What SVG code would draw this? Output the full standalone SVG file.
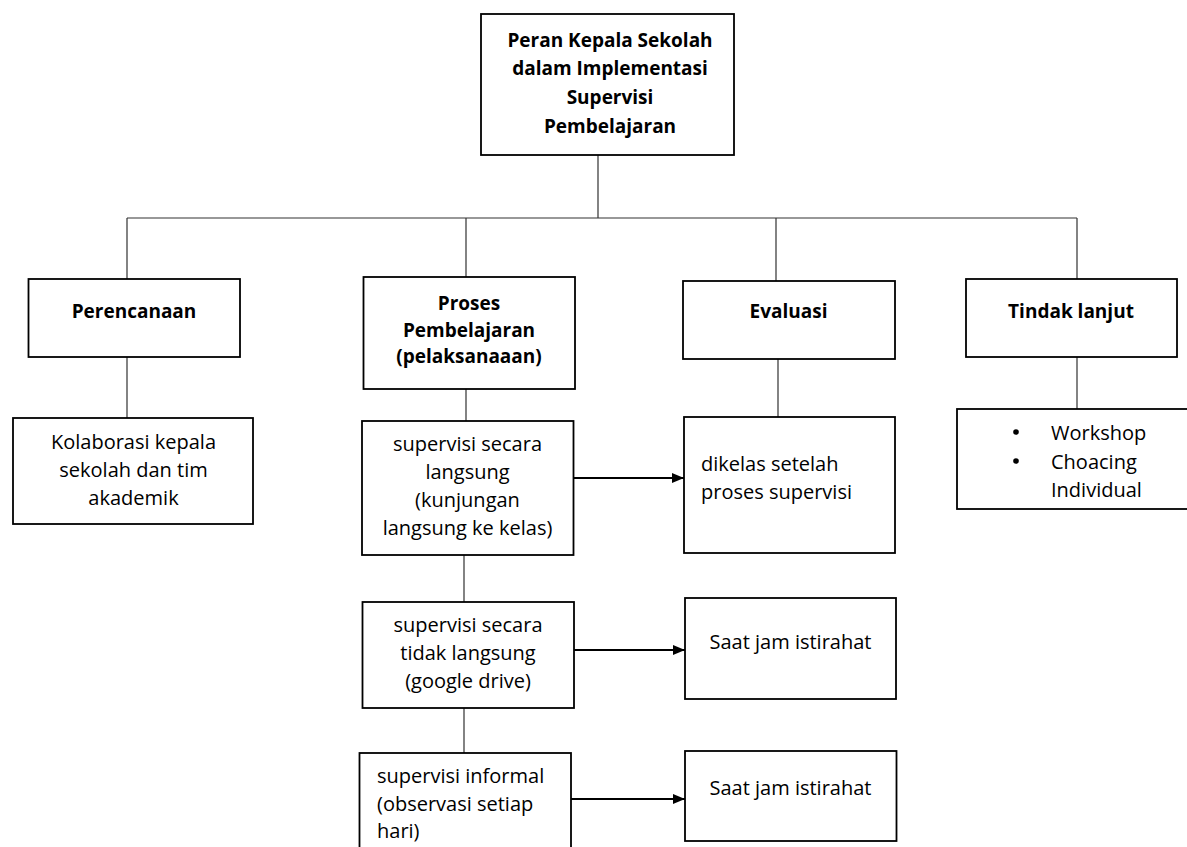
<svg xmlns="http://www.w3.org/2000/svg" width="1187" height="847" viewBox="0 0 1187 847">
<defs>
<style>
.box{fill:#fff;stroke:#000;stroke-width:1.8}
.ln{stroke:#333;stroke-width:1.2;fill:none}
.ar{stroke:#000;stroke-width:2;fill:none}
text{font-family:"Open Sans","Noto Sans",sans-serif;fill:#000}
.r{font-size:20px}
.b{font-size:19px;font-weight:bold}
.c{text-anchor:middle}
</style>
<marker id="ah" markerWidth="12" markerHeight="10" refX="12" refY="5" orient="auto" markerUnits="userSpaceOnUse">
<path d="M0,0 L12,5 L0,10 Z" fill="#000"/>
</marker>
</defs>
<rect width="1187" height="847" fill="#fff"/>
<g id="connectors">
<path class="ln" d="M598,155 V218 M127,218 H1077 M127,218 V279 M466,218 V277 M776,218 V281 M1077,218 V279"/>
<path class="ln" d="M127,357 V418 M466,389 V421 M778,359 V417 M1077,357 V409 M464,555 V602 M464,708 V753"/>
<path class="ar" d="M573.5,478 H684" marker-end="url(#ah)"/>
<path class="ar" d="M574,650 H685" marker-end="url(#ah)"/>
<path class="ar" d="M571,799 H685" marker-end="url(#ah)"/>
</g>
<g id="root">
<rect class="box" x="481" y="14" width="253" height="141"/>
<text class="b c" x="610" y="46.5">Peran Kepala Sekolah</text>
<text class="b c" x="610" y="75">dalam Implementasi</text>
<text class="b c" x="610" y="104">Supervisi</text>
<text class="b c" x="610" y="133">Pembelajaran</text>
</g>
<g id="perencanaan">
<rect class="box" x="28.5" y="279" width="211.5" height="78"/>
<text class="b c" x="134" y="318">Perencanaan</text>
</g>
<g id="proses">
<rect class="box" x="363.5" y="277" width="211.5" height="112"/>
<text class="b c" x="469" y="310">Proses</text>
<text class="b c" x="469" y="337">Pembelajaran</text>
<text class="b c" x="469" y="363">(pelaksanaaan)</text>
</g>
<g id="evaluasi">
<rect class="box" x="683" y="281" width="212" height="78"/>
<text class="b c" x="788.5" y="318">Evaluasi</text>
</g>
<g id="tindak">
<rect class="box" x="966" y="279" width="211" height="78"/>
<text class="b c" x="1071" y="318">Tindak lanjut</text>
</g>
<g id="kolaborasi">
<rect class="box" x="13" y="418" width="240" height="106"/>
<text class="r c" x="133.5" y="449">Kolaborasi kepala</text>
<text class="r c" x="133.5" y="477">sekolah dan tim</text>
<text class="r c" x="133.5" y="505">akademik</text>
</g>
<g id="langsung">
<rect class="box" x="362" y="421" width="211.5" height="134"/>
<text class="r c" x="467.5" y="451">supervisi secara</text>
<text class="r c" x="467.5" y="479">langsung</text>
<text class="r c" x="467.5" y="507">(kunjungan</text>
<text class="r c" x="467.5" y="535">langsung ke kelas)</text>
</g>
<g id="dikelas">
<rect class="box" x="684" y="417" width="211" height="136"/>
<text class="r" x="701" y="471">dikelas setelah</text>
<text class="r" x="701" y="499">proses supervisi</text>
</g>
<g id="tidaklangsung">
<rect class="box" x="362.5" y="602" width="211.5" height="106"/>
<text class="r c" x="468" y="632">supervisi secara</text>
<text class="r c" x="468" y="660">tidak langsung</text>
<text class="r c" x="468" y="688">(google drive)</text>
</g>
<g id="saat1">
<rect class="box" x="685" y="598" width="211" height="101"/>
<text class="r c" x="790.5" y="649">Saat jam istirahat</text>
</g>
<g id="informal">
<rect class="box" x="359.5" y="753" width="211.5" height="110"/>
<text class="r" x="377" y="783">supervisi informal</text>
<text class="r" x="377" y="811">(observasi setiap</text>
<text class="r" x="377" y="838">hari)</text>
</g>
<g id="saat2">
<rect class="box" x="685" y="751" width="211.5" height="90"/>
<text class="r c" x="790.5" y="795">Saat jam istirahat</text>
</g>
<g id="tindaklist">
<rect class="box" x="957" y="409" width="250" height="100"/>
<circle cx="1016" cy="432" r="2.8" fill="#000"/>
<circle cx="1016" cy="461" r="2.8" fill="#000"/>
<text class="r" x="1051" y="440">Workshop</text>
<text class="r" x="1051" y="469">Choacing</text>
<text class="r" x="1051" y="497">Individual</text>
</g>
</svg>
